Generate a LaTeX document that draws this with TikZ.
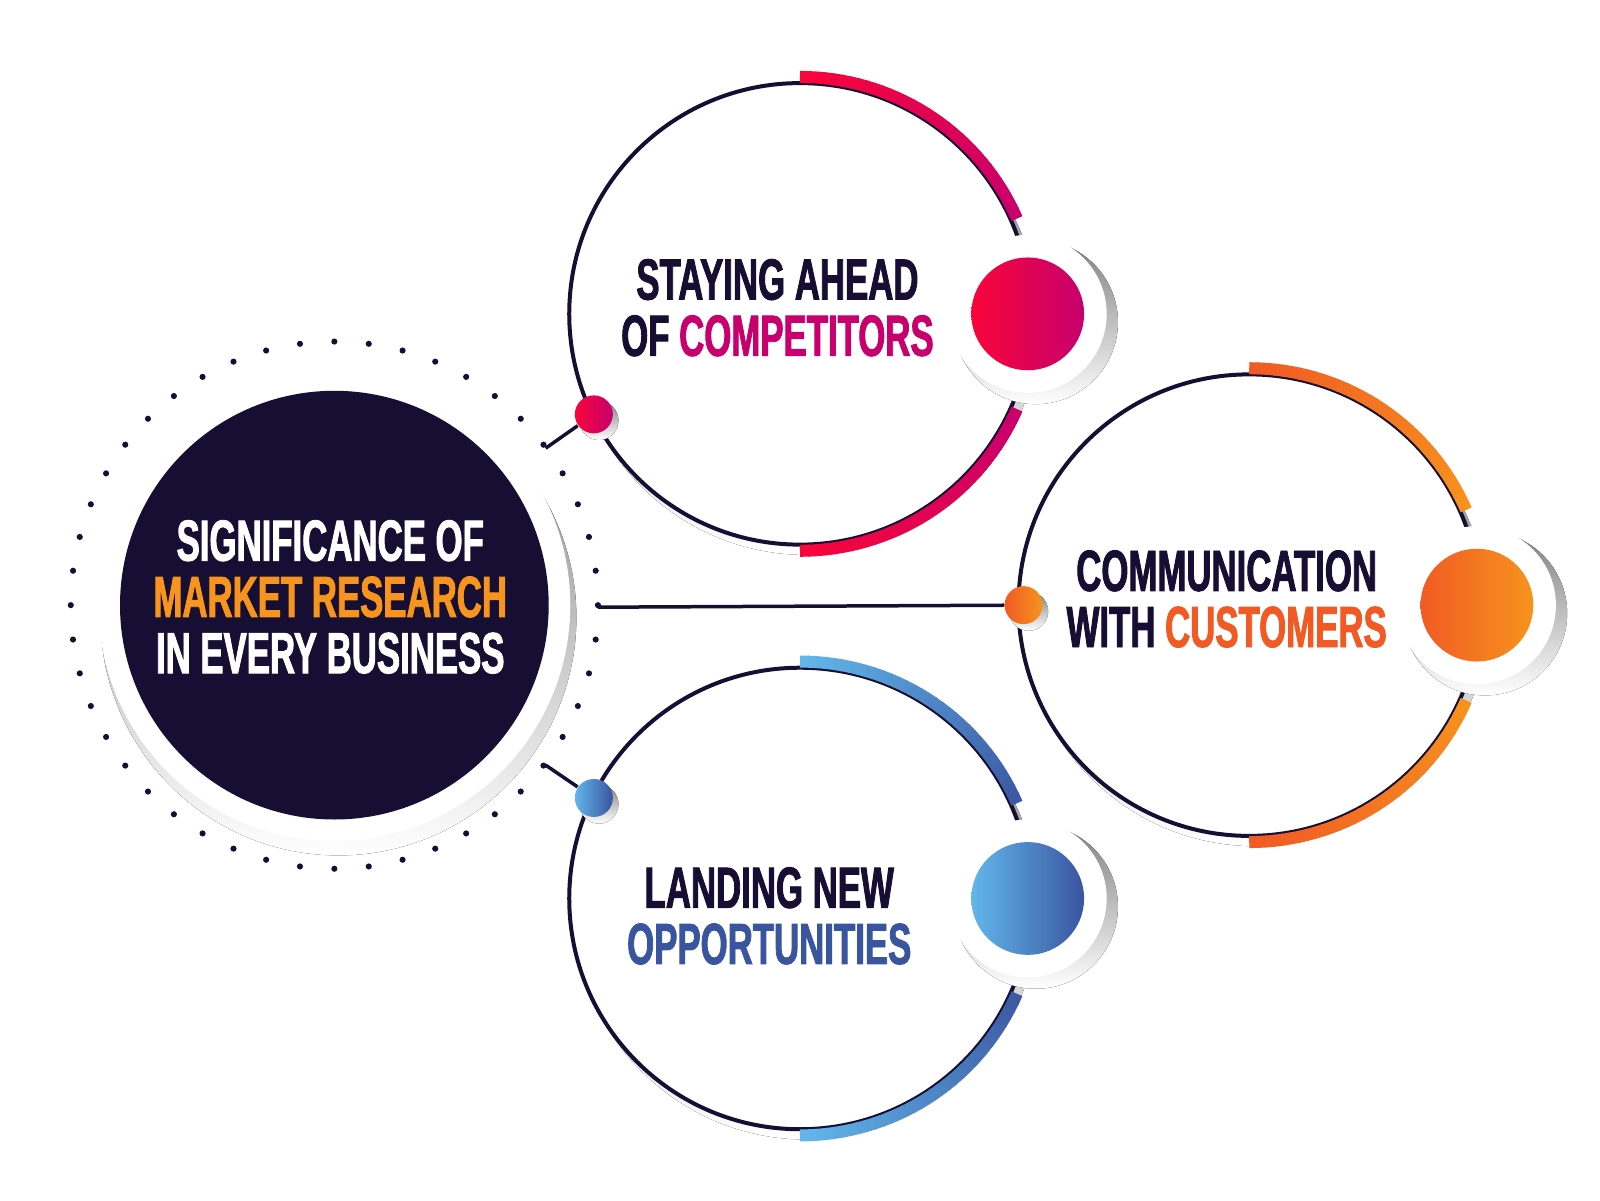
\documentclass[tikz,border=0pt]{standalone}
\usepackage{fontspec}
\newfontfamily\headfont{Liberation Sans}[FakeStretch=0.6,BoldFont=* Bold,BoldFeatures={FakeBold=1.5}]
\usetikzlibrary{positioning,calc}
\definecolor{navy}{HTML}{160F33}
\definecolor{redA}{HTML}{F8053A}
\definecolor{redB}{HTML}{C7006E}
\definecolor{orgA}{HTML}{F15A24}
\definecolor{orgB}{HTML}{F7941D}
\definecolor{bluA}{HTML}{62B6EA}
\definecolor{bluB}{HTML}{3A55A0}
\definecolor{shade}{HTML}{D5D9DE}
\tikzset{
  label text/.style={font=\headfont\bfseries\fontsize{16.5}{16}\selectfont, align=center, text=navy},
  small dot/.style={circle, minimum size=3.8mm, inner sep=0pt},
  link/.style={navy, line width=0.35mm}
}
% ring with gradient arc: center, colour top, colour gap
\newcommand\colring[3]{%
  \fill[shade] ($(#1)+(6,8)$) circle (227);
  \fill[white] (#1) circle (225);
  \draw[navy, line width=0.4mm] (#1) circle (225);
  \foreach \a in {90,88,...,26} {
    \pgfmathtruncatemacro\p{(90-\a)/66*100}
    \draw[line width=1.2mm, #3!\p!#2] ($(#1)+(\a:231)$) arc (\a:\a-2.3:231);
    \draw[line width=1.2mm, #3!\p!#2] ($(#1)+(-\a:231)$) arc (-\a:-\a+2.3:231);
  }
  \fill[shade] ($(#1)+(230,8)$) circle (80);
  \fill[white] ($(#1)+(222,0)$) circle (77);
  \shade[left color=#2, right color=#3] ($(#1)+(222,0)$) circle (55);
}
\begin{document}
\begin{tikzpicture}[x=0.1026mm, y=-0.1026mm]
\useasboundingbox (0,0) rectangle (1560,1170);
% centre
\foreach \a in {0,7.5,...,355} \fill[navy] ($(326,590)+(\a:257)$) circle (3);
\fill[shade] (330,602) circle (232);
\fill[white] (326,590) circle (230);
\fill[navy] (326,590) circle (209);
\node[label text, text=white] (core) at (322,582)
  {SIGNIFICANCE OF\\ \textcolor{orgB}{MARKET RESEARCH}\\ IN EVERY BUSINESS};
% rings
\colring{780,306}{redA}{redB}
\colring{1218,590}{orgA}{orgB}
\colring{780,876}{bluA}{bluB}
\node[label text] (comp) at (758,300) {STAYING AHEAD\\ OF \textcolor{redB}{COMPETITORS}};
\node[label text] (cust) at (1196,584) {COMMUNICATION\\ WITH \textcolor{orgA}{CUSTOMERS}};
\node[label text] (opp) at (750,893) {LANDING NEW\\ \textcolor{bluB}{OPPORTUNITIES}};
% connectors
\coordinate (c1) at (532,437);
\coordinate (c2) at (583,592);
\coordinate (c3) at (532,746);
\fill[shade] (584,410) circle (19);
\fill[shade] (1003,596) circle (19);
\fill[shade] (584,784) circle (19);
\node[small dot, left color=redA, right color=redB] (d1) at (579,404) {};
\node[small dot, left color=orgA, right color=orgB] (d2) at (998,590) {};
\node[small dot, left color=bluA, right color=bluB] (d3) at (579,778) {};
\draw[link] (c1) -- (d1);
\draw[link] (c2) -- (d2);
\draw[link] (c3) -- (d3);
\end{tikzpicture}
\end{document}
